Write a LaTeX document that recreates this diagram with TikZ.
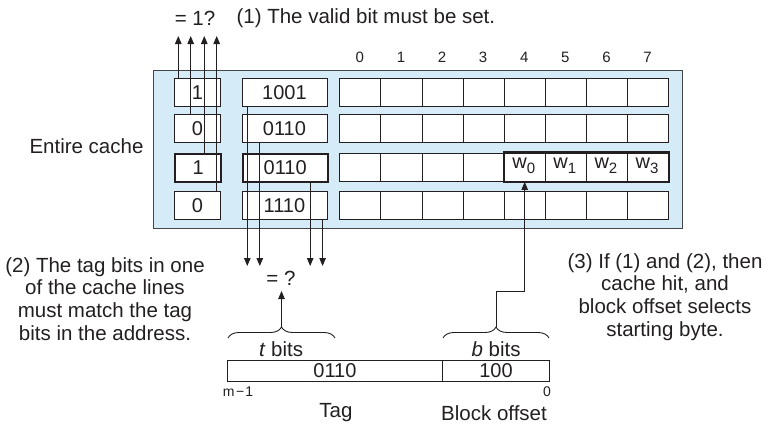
\documentclass[tikz,border=0pt]{standalone}
\usepackage{fontspec}
\setmainfont{Liberation Sans}
\usetikzlibrary{arrows.meta,decorations.pathreplacing,calc}
\definecolor{cacheblue}{RGB}{213,236,248}
\definecolor{ink}{RGB}{35,31,32}
\definecolor{frame}{RGB}{70,70,72}
\begin{document}
\begin{tikzpicture}[x=1pt,y=-1pt,
  every node/.style={text=ink},
  main/.style={font=\fontsize{20.5}{22.7}\selectfont},
  small/.style={font=\fontsize{15}{17}\selectfont},
  tiny/.style={font=\fontsize{14}{16}\selectfont},
  cachebg/.style={draw=frame, line width=1.3pt, fill=cacheblue, anchor=north west, inner sep=0pt},
  cellbox/.style={draw=ink, line width=0.9pt, fill=white, anchor=north west, inner sep=0pt,
    minimum height=28.5pt, font=\fontsize{20}{22}\selectfont},
  thickbox/.style={cellbox, line width=2.4pt},
  arr/.style={draw=ink, line width=0.9pt, -{Triangle[length=8pt,width=6.5pt]}},
  conn/.style={draw=ink, line width=0.9pt},
  bracedec/.style={draw=ink, line width=0.9pt, decorate, decoration={brace, amplitude=11pt}}
]
\useasboundingbox (0,0) rectangle (776,434);

% cache background
\node[cachebg, minimum width=529pt, minimum height=158pt] (cache) at (153,70) {};

% column numbers
\foreach \k in {0,...,7} {
  \node[small] (n\k) at ({339.3+41.1*\k+20.55},57) {\k};
}

% rows
\foreach \r/\y/\v/\t in {1/77.5/1/1001, 2/113.5/0/0110, 3/152.5/1/0110, 4/190.5/0/1110} {
  \ifnum\r=3
    \node[thickbox, minimum width=46pt] (v\r) at (174,\y) {\v};
    \node[thickbox, minimum width=85pt] (t\r) at (241.5,\y) {\t};
  \else
    \node[cellbox, minimum width=46pt] (v\r) at (174,\y) {\v};
    \node[cellbox, minimum width=85pt] (t\r) at (241.5,\y) {\t};
  \fi
  \foreach \k in {0,...,7} {
    \node[cellbox, minimum width=41.1pt] (c\r\k) at ({339.3+41.1*\k},\y) {};
  }
}
% words in row 3
\foreach \k/\i in {4/0,5/1,6/2,7/3} {
  \node[font=\fontsize{20}{22}\selectfont, inner sep=0pt] (w\i) at ($(c3\k.center)+(-1,-1)$)
    {w\raisebox{-5pt}{\fontsize{15}{15}\selectfont\i}};
}
\draw[ink, line width=2.4pt] (c34.north west) rectangle (c37.south east);

% valid-bit lines
\coordinate (a1) at (178.3,36);
\coordinate (a2) at (190.7,36);
\coordinate (a3) at (204.3,36);
\coordinate (a4) at (216.7,36);
\foreach \i in {1,...,4} { \draw[arr] (v\i.north -| a\i) -- (a\i); }

% tag lines
\coordinate (b1) at (247.3,266);
\coordinate (b2) at (259.8,266);
\coordinate (b3) at (310.2,266);
\coordinate (b4) at (322.6,266);
\foreach \i in {1,...,4} { \draw[arr] (t\i.south -| b\i) -- (b\i); }

% top labels
\node[main] (q1) at (195,18) {= 1?};
\node[main, anchor=west] (l1) at (233,18) {(1) The valid bit must be set.};
\node[main] (ec) at (86.5,146.5) {Entire cache};

% left and right notes
\node[main, align=center] (l2) at (105,299) {(2) The tag bits in one\\of the cache lines\\must match the tag\\bits in the address.};
\node[main, align=center] (l3) at (665,297) {(3) If (1) and (2), then\\cache hit, and\\block offset selects\\starting byte.};

% compare
\node[main] (eq) at (281,278) {= ?};

% address
\node[draw=ink, line width=0.9pt, anchor=north west, inner sep=0pt, minimum width=215pt, minimum height=21pt,
  font=\fontsize{20}{22}\selectfont] (tag) at (227,360) {0110};
\node[draw=ink, line width=0.9pt, anchor=north west, inner sep=0pt, minimum width=107pt, minimum height=21pt,
  font=\fontsize{20}{22}\selectfont] (off) at (442,360) {100};

\node[tiny] (m1) at (238,392) {m\kern1.5pt−\kern1pt1};
\node[tiny] (z0) at (547,392) {0};
\node[main] (tl) at (336,413) {Tag};
\node[main] (bl) at (494,413) {Block offset};

% braces
\draw[bracedec] (228,338) -- (335,338);
\draw[bracedec] (443,338) -- (549,338);
\coordinate (tb) at (281.5,327);
\coordinate (bb) at (496,327);
\node[main] (tbits) at (281,349) {\textit{t} bits};
\node[main] (bbits) at (496,349) {\textit{b} bits};

\coordinate (eqarr) at (281.5,291);
\draw[arr] (tb) -- (eqarr);
\draw[arr] (bb) |- ($(c34.south)+(0,110)$) -- (c34.south);
\end{tikzpicture}
\end{document}
